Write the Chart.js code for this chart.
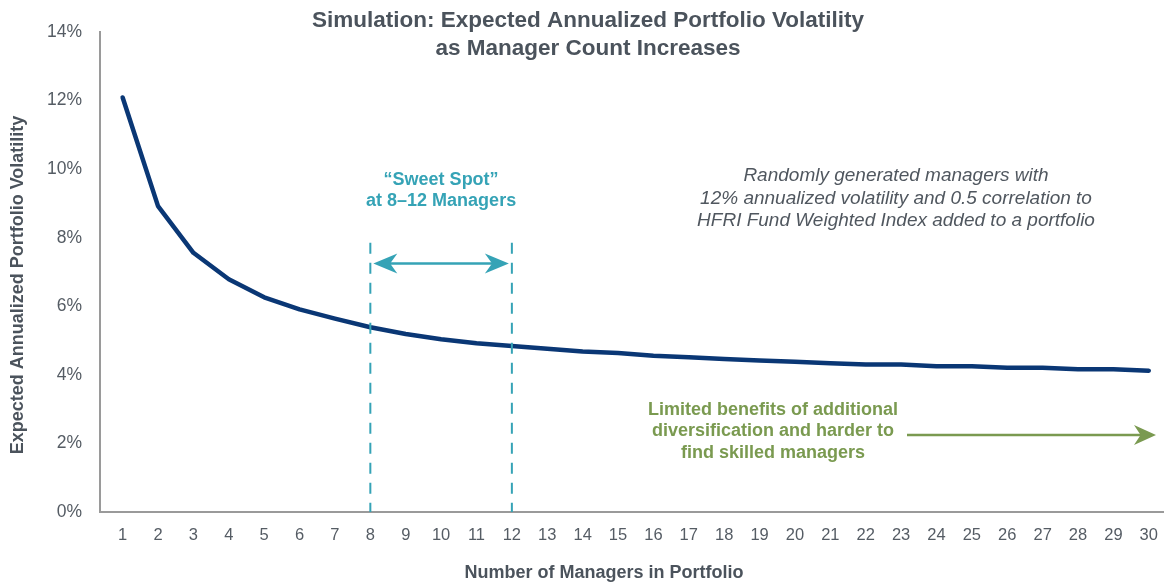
<!DOCTYPE html>
<html>
<head>
<meta charset="utf-8">
<script src="https://cdn.jsdelivr.net/npm/chart.js"></script>
<style>
  html, body { margin: 0; padding: 0; background: #fff; }
  #wrap { width: 1164px; height: 582px; position: relative; }
</style>
</head>
<body>
<div id="wrap"><canvas id="chart"></canvas></div>
<script>
  // Data
  const managerCounts = [1, 2, 3, 4, 5, 6, 7, 8, 9, 10, 11, 12, 13, 14, 15,
    16, 17, 18, 19, 20, 21, 22, 23, 24, 25, 26, 27, 28, 29, 30];
  const volatility = [12.09, 8.92, 7.56, 6.79, 6.26, 5.91, 5.64, 5.39, 5.19, 5.04, 4.92, 4.84, 4.76, 4.68, 4.64,
    4.56, 4.51, 4.46, 4.42, 4.38, 4.34, 4.30, 4.30, 4.25, 4.25, 4.21, 4.21, 4.16, 4.16, 4.12];
  const yTicks = [0, 2, 4, 6, 8, 10, 12, 14];

  const titleLines = ['Simulation: Expected Annualized Portfolio Volatility', 'as Manager Count Increases'];
  const xTitle = 'Number of Managers in Portfolio';
  const yTitle = 'Expected Annualized Portfolio Volatility';
  const sweetLines = ['\u201CSweet Spot\u201D', 'at 8\u201312 Managers'];
  const noteLines = ['Randomly generated managers with', '12% annualized volatility and 0.5 correlation to',
    'HFRI Fund Weighted Index added to a portfolio'];
  const limitLines = ['Limited benefits of additional', 'diversification and harder to', 'find skilled managers'];
  const sweetRange = [8, 12];

  const FONT = '"Liberation Sans", Arial, Helvetica, sans-serif';
  const TEAL = '#35a3b6';
  const GREEN = '#7a9a50';
  const GRAY = '#4b535c';

  function arrowHead(ctx, x, y, dir, len, half) {
    ctx.beginPath();
    ctx.moveTo(x, y);
    ctx.lineTo(x - dir * len, y - half);
    ctx.lineTo(x - dir * len * 0.7, y);
    ctx.lineTo(x - dir * len, y + half);
    ctx.closePath();
    ctx.fill();
  }

  // Annotations: texts, dashed lines and arrows, positioned through the scales
  const annotations = {
    id: 'annotations',
    afterDraw(chart) {
      const { ctx, scales: { x, y }, chartArea } = chart;
      ctx.save();

      // title
      ctx.fillStyle = GRAY;
      ctx.font = 'bold 22.5px ' + FONT;
      ctx.textAlign = 'center';
      ctx.textBaseline = 'middle';
      titleLines.forEach((t, i) => ctx.fillText(t, 588, 21 + i * 28));

      // axis titles
      ctx.font = 'bold 18px ' + FONT;
      ctx.fillText(xTitle, 604, 573);
      ctx.save();
      ctx.translate(18, 285);
      ctx.rotate(-Math.PI / 2);
      ctx.fillText(yTitle, 0, 0);
      ctx.restore();

      // sweet spot dashed lines
      const x8 = x.getPixelForValue(sweetRange[0]);
      const x12 = x.getPixelForValue(sweetRange[1]);
      ctx.strokeStyle = TEAL;
      ctx.lineWidth = 2;
      ctx.setLineDash([11, 9]);
      [x8, x12].forEach((px) => {
        ctx.beginPath();
        ctx.moveTo(px, y.getPixelForValue(7.85));
        ctx.lineTo(px, chartArea.bottom);
        ctx.stroke();
      });
      ctx.setLineDash([]);

      // double arrow
      const ay = y.getPixelForValue(7.25);
      ctx.lineWidth = 2.5;
      ctx.beginPath();
      ctx.moveTo(x8 + 10, ay);
      ctx.lineTo(x12 - 10, ay);
      ctx.stroke();
      ctx.fillStyle = TEAL;
      arrowHead(ctx, x8 + 3, ay, -1, 24, 10);
      arrowHead(ctx, x12 - 3, ay, 1, 24, 10);

      // sweet spot text
      ctx.font = 'bold 18px ' + FONT;
      sweetLines.forEach((t, i) => ctx.fillText(t, (x8 + x12) / 2, 180 + i * 21.5));

      // note
      ctx.fillStyle = '#50575f';
      ctx.font = 'italic 19px ' + FONT;
      noteLines.forEach((t, i) => ctx.fillText(t, 896, 176 + i * 22.5));

      // limited benefits text + arrow
      ctx.fillStyle = GREEN;
      ctx.font = 'bold 18px ' + FONT;
      limitLines.forEach((t, i) => ctx.fillText(t, 773, 410 + i * 21.5));
      const gy = 435;
      ctx.strokeStyle = GREEN;
      ctx.lineWidth = 2.5;
      ctx.beginPath();
      ctx.moveTo(907, gy);
      ctx.lineTo(1145, gy);
      ctx.stroke();
      arrowHead(ctx, 1156, gy, 1, 22, 10);

      ctx.restore();
    }
  };

  new Chart(document.getElementById('chart'), {
    type: 'line',
    data: {
      datasets: [{
        data: managerCounts.map((n, i) => ({ x: n, y: volatility[i] })),
        borderColor: '#0a3775',
        borderWidth: 4.5,
        pointRadius: 0,
        tension: 0,
        borderCapStyle: 'round',
        borderJoinStyle: 'round'
      }]
    },
    options: {
      responsive: true,
      maintainAspectRatio: false,
      animation: false,
      layout: { padding: { top: 32, right: 0, left: 0, bottom: 0 } },
      plugins: { legend: { display: false }, tooltip: { enabled: false }, title: { display: false } },
      scales: {
        x: {
          type: 'linear',
          min: 0.36,
          max: 30.43,
          afterBuildTicks: (s) => { s.ticks = managerCounts.map((v) => ({ value: v })); },
          grid: { display: false, drawTicks: false },
          border: { display: true, color: '#9a9a9a', width: 2 },
          ticks: { color: '#555c64', font: { family: FONT, size: 16.5 }, padding: 14, autoSkip: false, maxRotation: 0 },
          afterFit: (s) => { s.height = 70; s.paddingLeft = 0; s.paddingRight = 0; }
        },
        y: {
          min: 0,
          max: 14,
          afterBuildTicks: (s) => { s.ticks = yTicks.map((v) => ({ value: v })); },
          grid: { display: false, drawTicks: false },
          border: { display: true, color: '#9a9a9a', width: 2 },
          ticks: { color: '#555c64', font: { family: FONT, size: 17.5 }, padding: 18, callback: (v) => v + '%' },
          afterFit: (s) => { s.width = 100; s.paddingTop = 0; s.paddingBottom = 0; }
        }
      }
    },
    plugins: [annotations]
  });
</script>
</body>
</html>
